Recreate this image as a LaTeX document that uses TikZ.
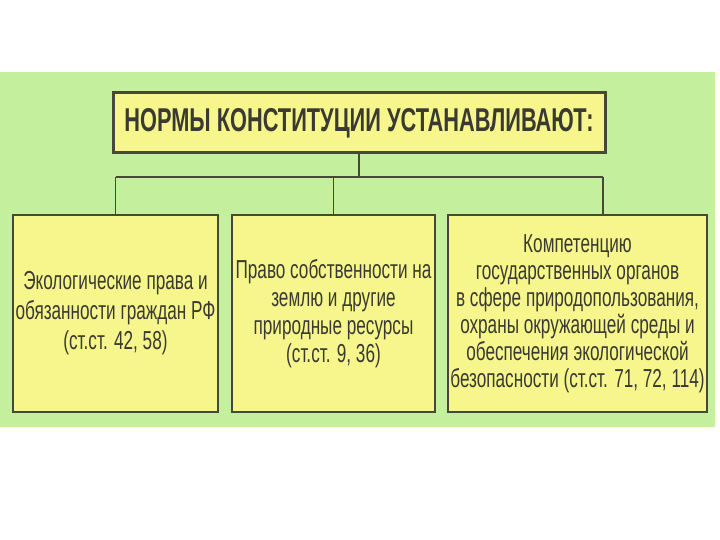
\documentclass[tikz,border=0pt]{standalone}
\usepackage{fontspec}
\setmainfont{Liberation Sans}[FakeStretch=0.66]
\usepackage{tikz}

\definecolor{bggreen}{RGB}{196,240,158}
\definecolor{boxyellow}{RGB}{246,246,140}
\definecolor{edgegray}{RGB}{72,72,56}
\definecolor{inkgray}{RGB}{58,58,50}

\begin{document}
\begin{tikzpicture}[x=1pt, y=-1pt,
    normbox/.style={draw=edgegray, line width=1.6pt, fill=boxyellow, text=inkgray,
      align=center, minimum height=197pt, inner sep=1pt,
      font=\fontsize{26}{30}\selectfont},
    wire/.style={draw=edgegray, line width=1.2pt}]
    \useasboundingbox (0,0) rectangle (720,540);
    \fill [bggreen] (0,72) rectangle (715,427);
    % header
    \node (title) at (359,123) [draw=edgegray, line width=3pt, fill=boxyellow, text=inkgray,
      minimum width=492pt, minimum height=60pt, inner sep=1pt,
      font=\fontsize{33}{36}\selectfont\bfseries] {НОРМЫ КОНСТИТУЦИИ УСТАНАВЛИВАЮТ:};
    % three boxes
    \node (eco) at (115.5,313.5) [normbox, minimum width=205pt]
      {Экологические права и\\обязанности граждан РФ\\(ст.ст. 42, 58)};
    \node (own) at (333.5,313.5) [normbox, minimum width=203pt,
      font=\fontsize{26}{28}\selectfont]
      {Право собственности на\\землю и другие\\природные ресурсы\\(ст.ст. 9, 36)};
    \node (comp) at (577.5,313.5) [normbox, minimum width=259pt,
      font=\fontsize{26}{27}\selectfont]
      {Компетенцию\\государственных органов\\в сфере природопользования,\\охраны окружающей среды и\\обеспечения экологической\\безопасности (ст.ст. 71, 72, 114)};
    % connectors
    \coordinate (bus) at (359,177);
    \coordinate (busL) at (115.5,177);
    \coordinate (busR) at (603,177);
    \draw [wire, line width=2.6pt] (title.south) -- (bus);
    \draw [wire] (busL) -- (busR);
    \draw [wire] (busL) -- (eco.north);
    \draw [wire] (own.north |- bus) -- (own.north);
    \draw [wire] (busR) -- (busR |- comp.north);
\end{tikzpicture}
\end{document}
